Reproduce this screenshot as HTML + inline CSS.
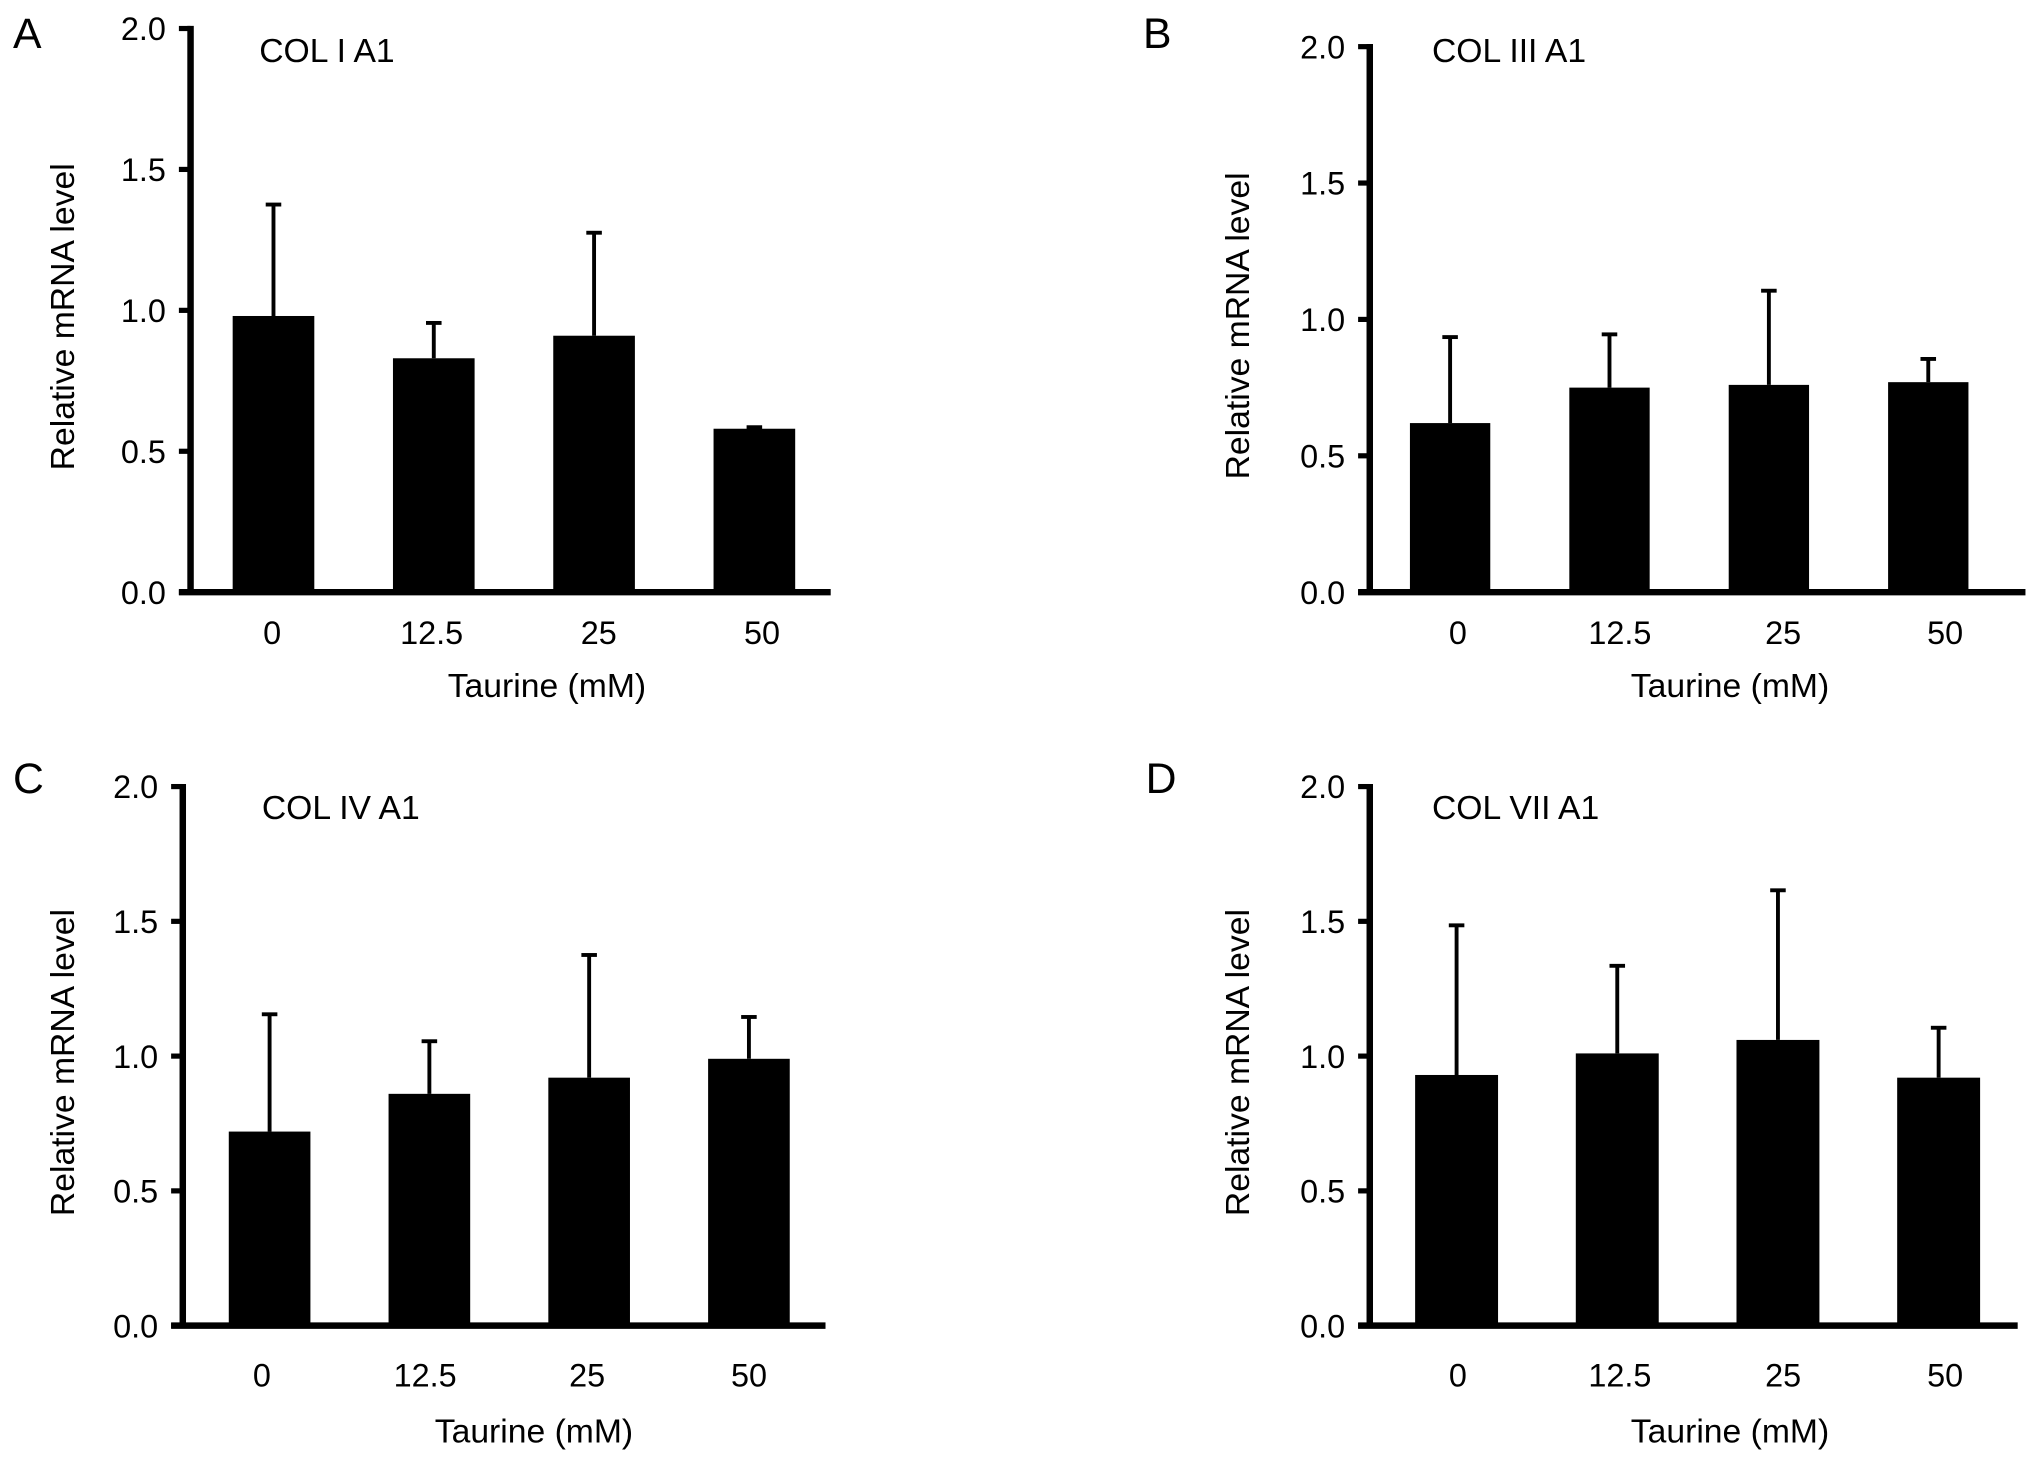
<!DOCTYPE html>
<html><head><meta charset="utf-8"><style>
html,body{margin:0;padding:0;background:#fff;}
svg{display:block;font-family:"Liberation Sans",Arial,sans-serif;}
</style></head><body>
<svg id="fig" width="2032" height="1463" viewBox="0 0 1568 1129" xmlns="http://www.w3.org/2000/svg"></svg>
<script>
const categories = ["0","12.5","25","50"];
const yTicks = [0,0.5,1.0,1.5,2.0];
const yTickLabels = ["0.0","0.5","1.0","1.5","2.0"];
const titles = ["COL I A1","COL III A1","COL IV A1","COL VII A1"];
const letters = ["A","B","C","D"];
const meansA = [0.98,0.83,0.91,0.58];
const errTopA = [1.38,0.96,1.28,0.59];
const meansB = [0.62,0.75,0.76,0.77];
const errTopB = [0.94,0.95,1.11,0.86];
const meansC = [0.72,0.86,0.92,0.99];
const errTopC = [1.16,1.06,1.38,1.15];
const meansD = [0.93,1.01,1.06,0.92];
const errTopD = [1.49,1.34,1.62,1.11];

const layouts = [
 {ax:147, top:22, zero:457, xEnd:641, c0:211, step:123.7, bw:63, lab:[210,333,462,588], lo:40, ylx:48, xt:422, xty:538, tx:200, ty:48, lx:10, ly:37, m:meansA, e:errTopA},
 {ax:1057, top:36, zero:457, xEnd:1563, c0:1119, step:123, bw:62, lab:[1125,1250,1376,1501], lo:40, ylx:955, xt:1335, xty:538, tx:1105, ty:48, lx:882, ly:37, m:meansB, e:errTopB},
 {ax:141, top:607, zero:1023, xEnd:637, c0:208, step:123.3, bw:63, lab:[202,328,453,578], lo:47, ylx:48, xt:412, xty:1113, tx:202, ty:632, lx:10, ly:612, m:meansC, e:errTopC},
 {ax:1057, top:607, zero:1023, xEnd:1557, c0:1124, step:124, bw:64, lab:[1125,1250,1376,1501], lo:47, ylx:955, xt:1335, xty:1113, tx:1105, ty:632, lx:884, ly:612, m:meansD, e:errTopD}
];
const NS="http://www.w3.org/2000/svg";
const svg=document.getElementById('fig');
function mk(tag, attrs, parent, text){const el=document.createElementNS(NS,tag);for(const k in attrs)el.setAttribute(k,attrs[k]);if(text!==undefined)el.textContent=text;parent.appendChild(el);return el;}
layouts.forEach((L,pi)=>{
  const g=mk('g',{},svg);
  
  
  const y=v=>L.zero-(v/2)*(L.zero-L.top);
  const xc=i=>L.c0+i*L.step;
  const let_=mk('text',{x:L.lx,y:L.ly,'font-size':33},g,letters[pi]);
  
  
  const t=mk('text',{x:L.tx,y:L.ty,'font-size':26},g,titles[pi]);
  
  
  L.m.forEach((v,i)=>{
    const r=mk('rect',{x:xc(i)-L.bw/2,y:y(v),width:L.bw,height:L.zero-y(v),fill:'#000'},g);
    
    
    const ln=mk('line',{x1:xc(i),x2:xc(i),y1:y(v),y2:y(L.e[i]),stroke:'#000','stroke-width':3},g);
    
    
    const cap=mk('line',{x1:xc(i)-6,x2:xc(i)+6,y1:y(L.e[i])+1,y2:y(L.e[i])+1,stroke:'#000','stroke-width':3},g);
    
    
  });
  const ya=mk('line',{x1:L.ax,x2:L.ax,y1:L.top-2,y2:L.zero+2,stroke:'#000','stroke-width':5},g);
  
  
  const xa=mk('line',{x1:L.ax-9,x2:L.xEnd,y1:L.zero,y2:L.zero,stroke:'#000','stroke-width':5},g);
  
  
  yTicks.forEach((v,i)=>{
    const tk=mk('line',{x1:L.ax-9,x2:L.ax,y1:y(v),y2:y(v),stroke:'#000','stroke-width':4},g);
    
    
    const tl=mk('text',{x:L.ax-19,y:y(v)+9,'font-size':25,'text-anchor':'end'},g,yTickLabels[i]);
    
    
  });
  categories.forEach((c,i)=>{
    const xl=mk('text',{x:L.lab[i],y:L.zero+L.lo,'font-size':25,'text-anchor':'middle'},g,c);
    
    
  });
  const xt=mk('text',{x:L.xt,y:L.xty,'font-size':26,'text-anchor':'middle'},g,'Taurine (mM)');
  
  
  const yc=(L.top+L.zero)/2+5;
  const yt=mk('text',{x:L.ylx,y:yc,'font-size':26,'text-anchor':'middle',transform:`rotate(-90 ${L.ylx} ${yc})`,dy:9},g,'Relative mRNA level');
  
  
});
</script>
</body></html>
